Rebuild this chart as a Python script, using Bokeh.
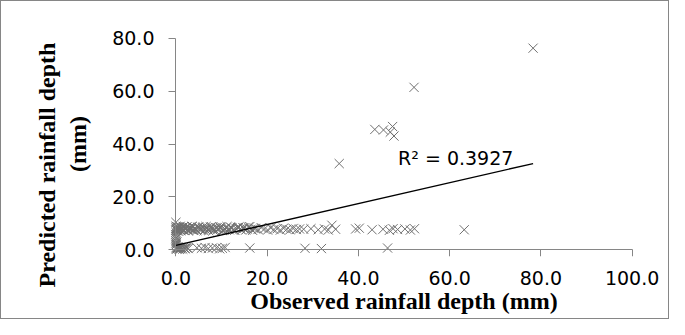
from bokeh.plotting import figure
from bokeh.models import Range1d, Label, NumeralTickFormatter, FixedTicker, LinearAxis, Title
from bokeh.embed import file_html
from bokeh.resources import INLINE

# ---------------- data ----------------
x_ticks = [0, 20, 40, 60, 80, 100]
y_ticks = [0, 20, 40, 60, 80]

x_title = "Observed rainfall depth (mm)"
y_title_1 = "Predicted rainfall depth"
y_title_2 = "(mm)"
r2_text = "R² = 0.3927"

trend_intercept = 1.7
trend_slope = 0.395

# band of predictions around 7-9 mm
obs_upper = [0.0, 0.1, 0.2, 0.3, 0.4, 0.5, 0.6, 0.8, 1.0, 1.2,
             1.4, 1.6, 1.8, 2.0, 2.3, 2.6, 2.9, 3.2, 3.5, 3.8,
             4.1, 4.4, 4.8, 5.2, 5.6, 6.0, 6.4, 6.8, 7.2, 7.6,
             8.0, 8.5, 9.0, 9.5, 10.0, 10.5, 11.0, 11.5, 12.0, 12.6,
             13.2, 13.8, 14.4, 15.0, 15.6, 16.2, 16.8, 17.4, 18.0, 18.7,
             19.4, 20.1, 20.8, 21.5, 22.2, 22.9, 23.6, 24.3, 25.0, 25.7,
             26.4, 27.1, 28.0, 29.6, 31.2, 32.6, 33.4, 34.2, 35.0, 39.4,
             40.2, 43.0, 45.4, 46.8, 47.6, 48.6, 50.2, 51.4, 52.3, 63.2]
pred_upper = [8.2, 7.4, 8.8, 7.8, 8.5, 7.2, 8.0, 8.6, 7.5, 8.3,
              7.9, 8.7, 7.3, 8.1, 8.6, 7.6, 8.3, 7.9, 8.8, 7.4,
              8.2, 7.7, 8.5, 8.0, 7.5, 8.7, 7.8, 8.3, 7.3, 8.6,
              8.0, 7.6, 8.4, 7.9, 8.7, 7.4, 8.2, 7.8, 8.5, 7.6,
              8.1, 8.6, 7.5, 8.3, 7.9, 8.8, 7.4, 8.1, 7.7, 8.4,
              7.9, 7.5, 8.3, 7.7, 8.0, 7.5, 8.2, 7.8, 7.6, 8.1,
              7.7, 7.9, 7.8, 8.0, 7.6, 7.9, 7.5, 9.3, 7.8, 7.9,
              8.2, 7.6, 7.8, 7.4, 8.0, 7.7, 7.9, 7.5, 8.0, 7.6]

obs_upper2 = [0.0, 0.0, 0.1, 0.3, 0.5, 0.7, 0.9, 1.1, 1.3, 1.5,
              1.7, 1.9, 2.1, 2.4, 2.7, 3.0, 3.3, 3.6, 3.9, 4.2,
              4.6, 5.0, 5.4, 5.8, 6.2, 6.6, 7.0, 7.4, 7.8, 8.2,
              8.7, 9.2, 9.7, 10.2, 10.7, 11.2, 11.7, 12.3, 12.9, 13.5,
              14.1, 14.7, 15.3, 15.9, 16.5, 17.1]
pred_upper2 = [7.5, 8.9, 8.0, 7.2, 8.4, 7.7, 8.9, 7.3, 8.2, 7.6,
               8.8, 7.4, 8.1, 8.6, 7.2, 8.4, 7.8, 8.9, 7.5, 8.2,
               7.3, 8.6, 7.9, 8.4, 7.2, 8.8, 7.6, 8.1, 8.7, 7.4,
               8.3, 7.8, 8.6, 7.3, 8.0, 8.8, 7.6, 8.2, 7.4, 8.5,
               7.9, 8.3, 7.5, 8.6, 7.8, 8.1]

# predictions near zero
obs_lower = [0.0, 0.1, 0.2, 0.3, 0.4, 0.5, 0.6, 0.7, 0.8, 0.9,
             1.0, 1.1, 1.3, 1.5, 1.7, 1.9, 2.1, 2.3, 2.5, 2.7,
             4.6, 5.6, 6.4, 7.1, 8.0, 8.9, 9.6, 10.2, 10.8, 16.2,
             28.3, 31.9, 46.4]
pred_lower = [0.5, 1.0, 0.3, 0.8, 0.6, 1.1, 0.4, 0.9, 0.2, 0.7,
              1.0, 0.5, 0.8, 0.3, 0.9, 0.6, 0.4, 1.0, 0.7, 0.5,
              0.8, 0.6, 0.9, 0.5, 0.7, 0.8, 0.4, 0.6, 0.9, 0.7,
              0.6, 0.5, 0.7]

# zero observed, various predictions
obs_zero = [0.0, 0.0, 0.0, 0.0, 0.0, 0.0, 0.0, 0.1, 0.1, 0.2, 0.0]
pred_zero = [1.8, 2.6, 3.4, 4.2, 5.0, 5.8, 6.6, 2.2, 4.6, 3.0, 10.4]

# large events
obs_high = [35.8, 43.6, 45.5, 47.5, 47.0, 47.8, 52.2, 78.3]
pred_high = [32.6, 45.5, 45.3, 46.6, 44.5, 43.0, 61.4, 76.2]

observed = obs_upper + obs_upper2 + obs_lower + obs_zero + obs_high
predicted = pred_upper + pred_upper2 + pred_lower + pred_zero + pred_high

# ---------------- figure ----------------
AXIS_GREY = "#868686"
TICK_FONT = "DejaVu Sans"
TITLE_FONT = "Liberation Serif"

p = figure(width=669, height=319,
           x_range=Range1d(-2.5, 102.5), y_range=Range1d(-2.5, 82.5),
           output_backend="svg", toolbar_location=None,
           min_border_left=163, min_border_right=27,
           min_border_top=30, min_border_bottom=64)
p.styles = {"border": "1px solid #868686", "box-sizing": "border-box"}
p.grid.visible = False
p.outline_line_color = None

p.scatter(observed, predicted, marker="x", size=13,
          line_color="#707070", line_width=1)

trend_x = [0, max(observed)]
trend_y = [trend_intercept + trend_slope * v for v in trend_x]
p.line(trend_x, trend_y, line_color="black", line_width=1.3)

# axes carrying the tick labels and titles (at the frame edge)
def label_axis(ax, ticks, standoff):
    ax.ticker = FixedTicker(ticks=ticks)
    ax.formatter = NumeralTickFormatter(format="0.0")
    ax.axis_line_color = None
    ax.major_tick_line_color = None
    ax.major_tick_out = 0
    ax.major_tick_in = 0
    ax.minor_tick_line_color = None
    ax.major_label_text_font = TICK_FONT
    ax.major_label_text_font_size = "19px"
    ax.major_label_text_color = "black"
    ax.major_label_standoff = standoff
    ax.axis_label_text_font = TITLE_FONT
    ax.axis_label_text_font_style = "bold"
    ax.axis_label_text_font_size = "24px"
    ax.axis_label_text_color = "black"

xlab = p.xaxis[0]
label_axis(xlab, x_ticks, 14)
xlab.axis_label = x_title
xlab.axis_label_standoff = 0

ylab = p.yaxis[0]
label_axis(ylab, y_ticks, 10)
ylab.axis_label = y_title_2
ylab.axis_label_standoff = 18

# axes carrying the axis lines and tick marks, pinned at zero
def line_axis(ticks, bounds):
    ax = LinearAxis(ticker=FixedTicker(ticks=ticks), bounds=bounds, fixed_location=0,
                    axis_line_color=AXIS_GREY, axis_line_width=1,
                    major_tick_line_color=AXIS_GREY, major_tick_in=7, major_tick_out=0,
                    minor_tick_line_color=None,
                    major_label_overrides={t: "" for t in ticks})
    return ax

p.add_layout(line_axis(x_ticks, (0, 100)), "above")
p.add_layout(line_axis(y_ticks, (0, 80)), "right")

p.add_layout(Title(text=y_title_1, align="left", offset=-31,
                   text_font=TITLE_FONT, text_font_style="bold",
                   text_font_size="24px", text_color="black", standoff=6), "left")

p.add_layout(Label(x=48.7, y=34.6, text=r2_text, text_align="left",
                   text_baseline="alphabetic", text_font=TICK_FONT,
                   text_font_size="19px", text_color="black"))

open("out.html", "w").write(file_html(p, INLINE))
